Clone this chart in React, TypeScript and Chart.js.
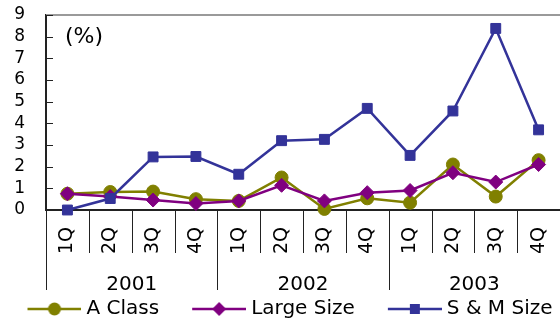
import React, { useEffect, useRef } from 'react';
import { Chart, registerables } from 'chart.js';

Chart.register(...registerables);

const QUARTERS = ['1Q', '2Q', '3Q', '4Q', '1Q', '2Q', '3Q', '4Q', '1Q', '2Q', '3Q', '4Q'];
const YEARS = ['2001', '2002', '2003'];
const SERIES_NAMES = ['A Class', 'Large Size', 'S & M Size'];
const A_CLASS = [0.75, 0.83, 0.85, 0.5, 0.42, 1.5, 0.05, 0.54, 0.34, 2.1, 0.62, 2.3];
const LARGE_SIZE = [0.75, 0.62, 0.46, 0.3, 0.42, 1.14, 0.42, 0.8, 0.9, 1.72, 1.29, 2.1];
const SM_SIZE = [0, 0.53, 2.45, 2.47, 1.65, 3.2, 3.26, 4.69, 2.52, 4.57, 8.38, 3.7];
const Y_MIN = 0;
const Y_MAX = 9;
const Y_STEP = 1;
const UNIT_LABEL = '(%)';

const FONT = 'DejaVu Sans';
const OLIVE = '#808000';
const PURPLE = '#800080';
const NAVY = '#333399';

const LEGEND_BOX = 79;
const PAD_LEFT = -10;

function makeLegendIcon(color: string, style: string): HTMLCanvasElement {
  const w = LEGEND_BOX + 10;
  const c = document.createElement('canvas');
  c.width = w;
  c.height = 18;
  const ctx = c.getContext('2d')!;
  const x0 = w - 54;
  const x1 = w;
  const cy = 9;
  ctx.strokeStyle = color;
  ctx.lineWidth = 2.5;
  ctx.beginPath();
  ctx.moveTo(x0, cy);
  ctx.lineTo(x1, cy);
  ctx.stroke();
  const cx = (x0 + x1) / 2;
  ctx.fillStyle = color;
  ctx.beginPath();
  if (style === 'circle') {
    ctx.arc(cx, cy, 6.5, 0, Math.PI * 2);
  } else if (style === 'rect') {
    ctx.rect(cx - 5, cy - 5, 10, 10);
  } else {
    ctx.moveTo(cx, cy - 7);
    ctx.lineTo(cx + 7, cy);
    ctx.lineTo(cx, cy + 7);
    ctx.lineTo(cx - 7, cy);
    ctx.closePath();
  }
  ctx.fill();
  return c;
}

const decorPlugin = {
  id: 'decor',
  afterDraw(chart: any) {
    const { ctx, chartArea } = chart;
    const x = chart.scales.x;
    const x2 = chart.scales.x2;
    const y = chart.scales.y;
    ctx.save();
    // top frame line
    ctx.strokeStyle = '#9a9a9a';
    ctx.lineWidth = 2;
    ctx.beginPath();
    ctx.moveTo(chartArea.left, chartArea.top);
    ctx.lineTo(chartArea.right, chartArea.top);
    ctx.stroke();
    // inward y ticks
    ctx.strokeStyle = '#222';
    ctx.lineWidth = 1;
    y.ticks.forEach((_t: any, i: number) => {
      const py = Math.round(y.getPixelForTick(i)) + 0.5;
      ctx.beginPath();
      ctx.moveTo(chartArea.left, py);
      ctx.lineTo(chartArea.left + 7, py);
      ctx.stroke();
    });
    // quarter separators
    for (let i = 1; i < QUARTERS.length; i++) {
      const px = Math.round(x.getPixelForValue(i - 0.5)) + 0.5;
      ctx.beginPath();
      ctx.moveTo(px, x.top);
      ctx.lineTo(px, x.bottom);
      ctx.stroke();
    }
    // year separators
    for (let j = 0; j <= YEARS.length; j++) {
      const px = Math.round(x2.getPixelForValue(j - 0.5)) + 0.5;
      ctx.beginPath();
      ctx.moveTo(px, x.top);
      ctx.lineTo(px, x2.bottom - 6);
      ctx.stroke();
    }
    // unit label
    ctx.fillStyle = '#000';
    ctx.font = `22px "${FONT}"`;
    ctx.textBaseline = 'middle';
    ctx.textAlign = 'left';
    ctx.fillText(UNIT_LABEL, chartArea.left + 19, chartArea.top + 22);
    ctx.restore();
  },
};

export default function App() {
  const ref = useRef<HTMLCanvasElement | null>(null);

  useEffect(() => {
    if (!ref.current) return;
    const colors = [OLIVE, PURPLE, NAVY];
    const styles = ['circle', 'rectRot', 'rect'];
    const icons = colors.map((c, i) => makeLegendIcon(c, styles[i]));
    const seriesData = [A_CLASS, LARGE_SIZE, SM_SIZE];
    const radii = [6.5, 7, 7];
    const orders = [3, 2, 1];

    const noHPad = (s: any) => {
      s.paddingLeft = 0;
      s.paddingRight = 0;
    };

    const chart = new Chart(ref.current, {
      type: 'line',
      data: {
        labels: QUARTERS,
        datasets: SERIES_NAMES.map((name, i) => ({
          label: name,
          data: seriesData[i],
          borderColor: colors[i],
          backgroundColor: colors[i],
          pointBackgroundColor: colors[i],
          pointBorderColor: colors[i],
          pointBorderWidth: 1,
          pointStyle: styles[i] as any,
          pointRadius: radii[i],
          borderWidth: 2.5,
          tension: 0,
          order: orders[i],
          clip: false as any,
          xAxisID: 'x',
          yAxisID: 'y',
        })),
      },
      options: {
        responsive: false,
        animation: false,
        events: [],
        layout: { autoPadding: false, padding: { top: 15, left: PAD_LEFT, right: 0, bottom: -9 } },
        plugins: {
          tooltip: { enabled: false },
          legend: {
            position: 'bottom',
            labels: {
              usePointStyle: true,
              pointStyleWidth: LEGEND_BOX,
              padding: 3,
              color: '#000',
              font: { family: FONT, size: 20 },
              generateLabels: (c: any) =>
                c.data.datasets.map((ds: any, i: number) => ({
                  text: ds.label,
                  pointStyle: icons[i],
                  fillStyle: ds.borderColor,
                  strokeStyle: ds.borderColor,
                  lineWidth: 0,
                  hidden: !c.isDatasetVisible(i),
                  datasetIndex: i,
                  fontColor: '#000',
                })),
            },
          },
        },
        scales: {
          x: {
            type: 'category',
            position: 'bottom',
            weight: 0,
            offset: true,
            grid: { display: false, drawTicks: false, offset: true },
            border: { display: true, color: '#222', width: 2 },
            ticks: {
              autoSkip: false,
              minRotation: 90,
              maxRotation: 90,
              padding: 17,
              color: '#000',
              font: { family: FONT, size: 19 },
            },
            afterFit: (s: any) => {
              s.height = 43;
              noHPad(s);
            },
          },
          x2: {
            type: 'category',
            labels: YEARS,
            position: 'bottom',
            weight: 1,
            offset: true,
            grid: { display: false, drawTicks: false },
            border: { display: false },
            ticks: {
              padding: 20,
              color: '#000',
              font: { family: FONT, size: 20 },
            },
            afterFit: (s: any) => {
              s.height = 43;
              noHPad(s);
            },
          },
          y: {
            type: 'linear',
            position: 'left',
            min: Y_MIN,
            max: Y_MAX,
            grid: { display: false, drawTicks: false },
            border: { display: true, color: '#222', width: 2 },
            ticks: {
              stepSize: Y_STEP,
              autoSkip: false,
              padding: 21,
              color: '#000',
              font: { family: FONT, size: 17 },
            },
            afterFit: (s: any) => {
              s.width = 46 - PAD_LEFT;
              s.paddingTop = 0;
              s.paddingBottom = 0;
            },
          },
        },
      },
      plugins: [decorPlugin],
    });
    return () => chart.destroy();
  }, []);

  return (
    <div style={{ position: 'absolute', left: 0, top: 0, width: 560, height: 320 }}>
      <canvas ref={ref} width={560} height={320} style={{ display: 'block' }} />
    </div>
  );
}
